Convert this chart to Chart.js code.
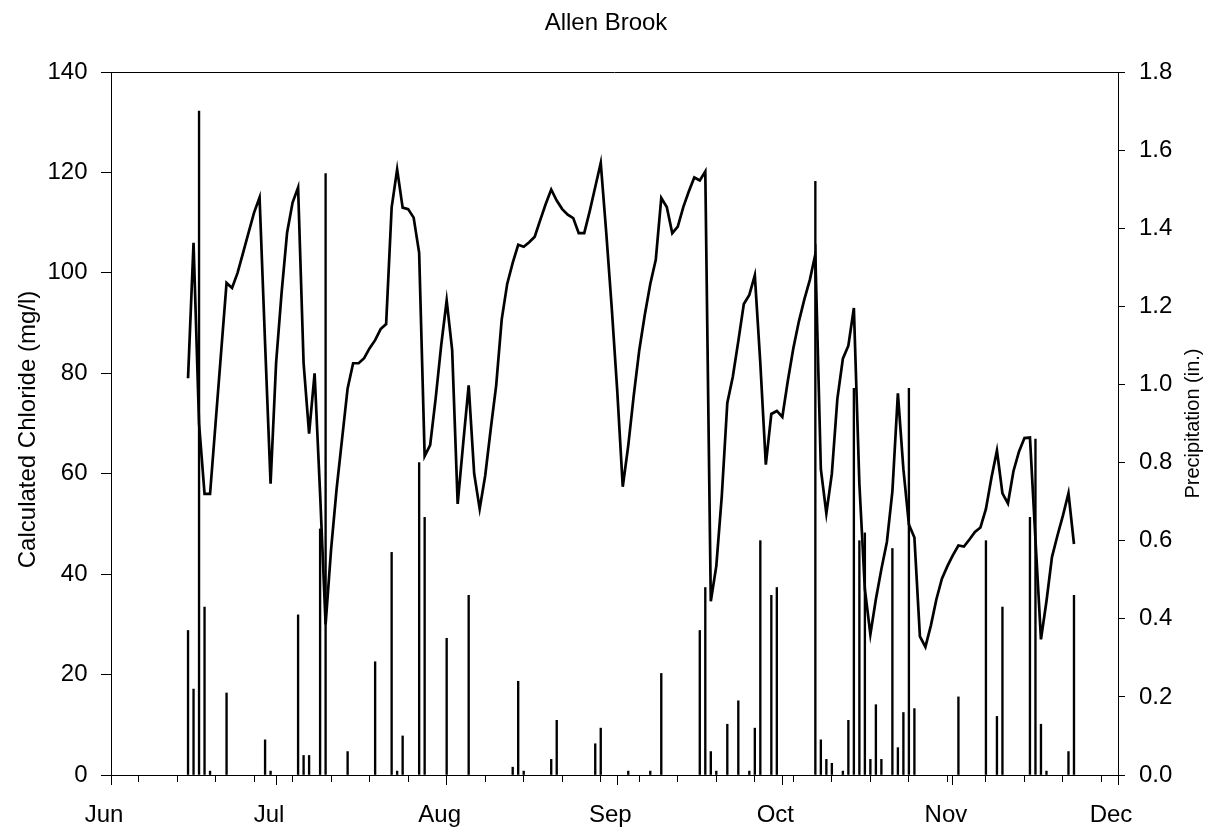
<!DOCTYPE html>
<html>
<head>
<meta charset="utf-8">
<title>Allen Brook</title>
<script src="https://cdn.jsdelivr.net/npm/chart.js@4.4.1/dist/chart.umd.min.js"></script>
<style>
  html, body { margin: 0; padding: 0; background: #fff; }
  #wrap { width: 1212px; height: 827px; position: relative; }
</style>
</head>
<body>
<div id="wrap"><canvas id="chart"></canvas></div>
<script>
// x values are days counted from June 1
const monthStarts = [0, 30, 61, 92, 122, 153, 183];
const monthLabels = ['Jun', 'Jul', 'Aug', 'Sep', 'Oct', 'Nov', 'Dec'];
const weekTicks = [5, 12, 19, 26, 33, 40, 47, 54, 61, 68, 75, 82, 89, 96, 103, 110, 117, 124, 131, 138, 145, 152, 159, 166, 173, 180];

// daily calculated chloride (mg/l), first value is June 15
const chlorideFirstDay = 14;
const chlorideValues = [
  79, 106, 70, 56, 56, 70, 84, 98, 97, 100, 104, 108, 112, 115, 86, 58,
  82, 96, 108, 114, 117, 82, 68, 80, 56, 30, 45, 57, 67, 77, 82, 82,
  83, 85, 86.6, 88.8, 89.8, 113, 120.6, 113, 112.7, 111, 104, 63.5, 65.7, 75,
  85.5, 94.5, 84.6, 54, 66, 77.6, 60, 53, 59.6, 68.8, 77.6, 90.7, 97.8, 102,
  105.6, 105.2, 106.1, 107.2, 110.5, 113.7, 116.6, 114.4, 112.7, 111.6, 110.9, 107.9,
  107.9, 112.3, 117.1, 121.9, 108, 93, 76.5, 57.4, 65.6, 75.6, 84.6, 91.6,
  97.8, 102.6, 114.9, 113.1, 107.9, 109.2, 113.1, 116.2, 119, 118.4, 120.2, 34.6,
  41.6, 55.6, 74.1, 79.3, 86.4, 93.8, 95.6, 99.5, 82, 61.8, 71.9, 72.5,
  71.3, 78.5, 85, 90.3, 94.7, 98.6, 103.7, 60.9, 52.1, 60, 74.9, 82.9,
  85.5, 93, 58, 37, 28, 35, 41, 46.4, 56.5, 76, 60.9, 49.9,
  47.3, 27.6, 25.5, 29.8, 35, 39.1, 41.6, 43.8, 45.7, 45.5, 46.9, 48.4,
  49.3, 53, 59.2, 64.6, 56.1, 54.1, 60.5, 64.4, 67.1, 67.2, 46.9, 27,
  34.6, 43.4, 47.7, 51.7, 56.1, 46
];

// daily precipitation (in.)
const precipDays = [
  14, 15, 16, 17, 18, 21, 28, 29, 34, 35, 36, 38, 39, 43, 48, 51, 52, 53, 56, 57,
  61, 65, 73, 74, 75, 80, 81, 88, 89, 94, 98, 100, 107, 108, 109, 110, 112, 114,
  116, 117, 118, 120, 121, 128, 129, 130, 131, 133, 134, 135, 136, 137, 138, 139,
  140, 142, 143, 144, 145, 146, 154, 159, 161, 162, 167, 168, 169, 170, 174, 175
];
const precipInches = [
  0.37, 0.22, 1.70, 0.43, 0.01, 0.21, 0.09, 0.01, 0.41, 0.05, 0.05, 0.63, 1.54, 0.06, 0.29, 0.57, 0.01, 0.10, 0.80, 0.66,
  0.35, 0.46, 0.02, 0.24, 0.01, 0.04, 0.14, 0.08, 0.12, 0.01, 0.01, 0.26, 0.37, 0.48, 0.06, 0.01, 0.13, 0.19,
  0.01, 0.12, 0.60, 0.46, 0.48, 1.52, 0.09, 0.04, 0.03, 0.01, 0.14, 0.99, 0.60, 0.62, 0.04, 0.18,
  0.04, 0.58, 0.07, 0.16, 0.99, 0.17, 0.20, 0.60, 0.15, 0.43, 0.66, 0.86, 0.13, 0.01, 0.06, 0.46
];

const leftTicks = [0, 20, 40, 60, 80, 100, 120, 140];
const rightTicks = [0, 0.2, 0.4, 0.6, 0.8, 1.0, 1.2, 1.4, 1.6, 1.8];

const font = 'Liberation Sans, Arial, sans-serif';
const ink = '#000';

const chlorideData = chlorideValues.map((v, i) => ({ x: chlorideFirstDay + i, y: v }));
const precipData = precipDays.map((d, i) => ({ x: d, y: precipInches[i] }));

// top frame line and both axis titles (both read bottom to top)
const framePlugin = {
  id: 'frame',
  afterDraw(chart) {
    const { ctx, chartArea } = chart;
    const midY = (chartArea.top + chartArea.bottom) / 2;
    ctx.save();
    ctx.strokeStyle = ink;
    ctx.lineWidth = 1;
    ctx.beginPath();
    ctx.moveTo(chartArea.left, chartArea.top + 0.5);
    ctx.lineTo(chartArea.right, chartArea.top + 0.5);
    ctx.stroke();

    ctx.fillStyle = ink;
    ctx.textAlign = 'center';
    ctx.textBaseline = 'middle';

    ctx.save();
    ctx.translate(28, midY + 6);
    ctx.rotate(-Math.PI / 2);
    ctx.font = '24px ' + font;
    ctx.fillText('Calculated Chloride (mg/l)', 0, 0);
    ctx.restore();

    ctx.save();
    ctx.translate(1193, midY);
    ctx.rotate(-Math.PI / 2);
    ctx.font = '20px ' + font;
    ctx.fillText('Precipitation (in.)', 0, 0);
    ctx.restore();

    ctx.restore();
  }
};

new Chart(document.getElementById('chart'), {
  type: 'bar',
  data: {
    datasets: [
      {
        type: 'line',
        label: 'Chloride',
        data: chlorideData,
        xAxisID: 'x',
        yAxisID: 'y',
        borderColor: ink,
        borderWidth: 2.7,
        pointRadius: 0,
        tension: 0,
        fill: false,
        order: 1
      },
      {
        type: 'bar',
        label: 'Precipitation',
        data: precipData,
        xAxisID: 'x',
        yAxisID: 'y1',
        backgroundColor: ink,
        borderWidth: 0,
        barThickness: 1.7,
        grouped: false,
        order: 2
      }
    ]
  },
  options: {
    responsive: true,
    maintainAspectRatio: false,
    devicePixelRatio: 1,
    animation: false,
    layout: { padding: 0 },
    plugins: {
      legend: { display: false },
      tooltip: { enabled: false },
      title: {
        display: true,
        text: 'Allen Brook',
        color: ink,
        font: { family: font, size: 24, weight: 'normal' },
        padding: { top: 9, bottom: 34.2 }
      }
    },
    scales: {
      xw: {
        type: 'linear',
        position: 'bottom',
        weight: 0,
        min: 0,
        max: 183,
        offset: false,
        afterBuildTicks: s => { s.ticks = weekTicks.map(v => ({ value: v })); },
        afterFit: s => { s.height = 0; },
        ticks: { display: false },
        border: { display: false },
        grid: { display: true, offset: false, drawOnChartArea: false, drawTicks: true, tickLength: 7, tickColor: ink, tickWidth: 1 }
      },
      x: {
        type: 'linear',
        position: 'bottom',
        weight: 1,
        min: 0,
        max: 183,
        offset: false,
        afterBuildTicks: s => { s.ticks = monthStarts.map(v => ({ value: v })); },
        afterFit: s => { s.height = 52; },
        ticks: {
          autoSkip: false,
          maxRotation: 0,
          color: ink,
          padding: 16,
          labelOffset: -7,
          font: { family: font, size: 24 },
          callback: (v) => monthLabels[monthStarts.indexOf(v)]
        },
        border: { display: true, color: ink, width: 1 },
        grid: { offset: false, drawOnChartArea: false, drawTicks: true, tickLength: 10, tickColor: ink, tickWidth: 1 }
      },
      y: {
        type: 'linear',
        position: 'left',
        min: 0,
        max: 140,
        afterBuildTicks: s => { s.ticks = leftTicks.map(v => ({ value: v })); },
        afterFit: s => { s.width = 111; },
        ticks: { color: ink, padding: 13.5, font: { family: font, size: 24 } },
        border: { display: true, color: ink, width: 1 },
        grid: { drawOnChartArea: false, drawTicks: true, tickLength: 10, tickColor: ink }
      },
      y1: {
        type: 'linear',
        position: 'right',
        min: 0,
        max: 1.8,
        afterBuildTicks: s => { s.ticks = rightTicks.map(v => ({ value: v })); },
        afterFit: s => { s.width = 94; },
        ticks: {
          color: ink,
          padding: 14,
          font: { family: font, size: 24 },
          callback: v => v.toFixed(1)
        },
        border: { display: true, color: ink, width: 1 },
        grid: { drawOnChartArea: false, drawTicks: true, tickLength: 7, tickColor: ink }
      }
    }
  },
  plugins: [framePlugin]
});
</script>
</body>
</html>
